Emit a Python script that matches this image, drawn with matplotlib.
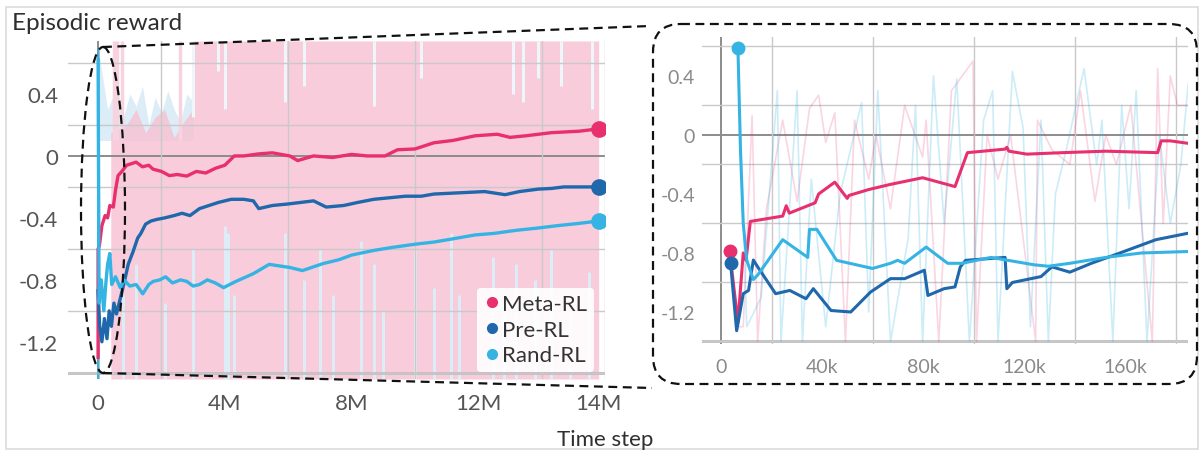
import matplotlib
matplotlib.use("Agg")
import matplotlib.pyplot as plt
from matplotlib.lines import Line2D
from matplotlib.patches import Ellipse, FancyBboxPatch, Rectangle
from matplotlib.ticker import MultipleLocator

plt.rcParams['font.family'] = ['Lato', 'DejaVu Sans']

names = ['Meta-RL', 'Pre-RL', 'Rand-RL']
colors = ['#E8306E', '#1F68AC', '#35B4E4']

# main chart, x in millions of steps
meta_x = [0.0, 0.0, 0.04, 0.12, 0.22, 0.3, 0.37, 0.48, 0.55, 0.63, 0.75, 0.9, 1.05, 1.2, 1.4, 1.6, 1.73, 2.0,
          2.25, 2.5, 2.8, 3.1, 3.4, 3.7, 4.0, 4.3, 4.6, 5.06, 5.5, 6.05, 6.3, 6.8, 7.4, 8.0, 8.5, 9.06, 9.45,
          10.0, 10.6, 11.2, 11.9, 12.6, 13.0, 13.5, 14.3, 15.2, 15.8]
meta_y = [-1.3, -0.6, -0.58, -0.45, -0.385, -0.4, -0.32, -0.33, -0.22, -0.127, -0.1, -0.06, -0.05, -0.04, -0.07,
          -0.06, -0.085, -0.1, -0.127, -0.12, -0.13, -0.1, -0.11, -0.08, -0.06, 0.0, 0.0, 0.013, 0.02, 0.0, -0.03,
          0.0, -0.01, 0.01, 0.0, 0.0, 0.04, 0.045, 0.085, 0.1, 0.13, 0.14, 0.12, 0.13, 0.15, 0.16, 0.175]

pre_x = [0.0, 0.05, 0.12, 0.2, 0.28, 0.35, 0.42, 0.5, 0.58, 0.7, 0.82, 0.95, 1.1, 1.25, 1.35, 1.5, 1.67, 1.85,
         2.1, 2.4, 2.65, 2.9, 3.2, 3.5, 3.8, 4.2, 4.6, 4.9, 5.07, 5.5, 6.0, 6.4, 6.8, 7.2, 7.75, 8.2, 8.7, 9.2,
         9.7, 10.2, 10.6, 11.2, 11.7, 12.2, 12.85, 13.3, 13.9, 14.3, 14.7, 15.2, 15.8]
pre_y = [-0.87, -1.1, -1.2, -1.05, -1.18, -1.0, -1.1, -0.95, -1.02, -0.92, -0.82, -0.7, -0.62, -0.53, -0.5,
         -0.44, -0.42, -0.41, -0.4, -0.385, -0.37, -0.385, -0.34, -0.32, -0.3, -0.28, -0.28, -0.29, -0.34, -0.32,
         -0.31, -0.3, -0.29, -0.33, -0.32, -0.3, -0.28, -0.27, -0.26, -0.26, -0.246, -0.24, -0.235, -0.23, -0.25,
         -0.23, -0.214, -0.21, -0.2, -0.2, -0.2]

rand_x = [0.0, 0.03, 0.1, 0.18, 0.25, 0.3, 0.37, 0.43, 0.55, 0.7, 0.82, 1.0, 1.2, 1.41, 1.6, 1.74, 1.95, 2.13,
          2.35, 2.6, 2.8, 3.0, 3.2, 3.45, 3.7, 3.96, 4.35, 4.9, 5.4, 6.05, 6.45, 7.1, 7.6, 8.0, 8.7, 9.3, 10.0,
          10.6, 11.2, 11.9, 12.5, 13.2, 13.9, 14.5, 15.2, 15.8]
rand_y = [0.62, -0.95, -0.8, -1.0, -0.81, -0.7, -0.63, -0.83, -0.78, -0.85, -0.8, -0.84, -0.83, -0.89, -0.83,
          -0.81, -0.8, -0.78, -0.82, -0.8, -0.81, -0.84, -0.83, -0.8, -0.82, -0.85, -0.81, -0.76, -0.7, -0.72,
          -0.74, -0.695, -0.67, -0.64, -0.61, -0.59, -0.57, -0.556, -0.535, -0.51, -0.5, -0.48, -0.465, -0.45,
          -0.435, -0.42]

# raw (unsmoothed) background of the main chart
pink_x = [0.4, 0.9, 1.2, 1.5, 1.8, 2.1, 2.4, 2.7, 3.0, 3.0, 15.8]
pink_top = [0.15, 0.2, 0.3, 0.15, 0.25, 0.3, 0.12, 0.22, 0.3, 0.742, 0.742]
rawb_x = [0.0, 0.3, 0.6, 0.8, 1.0, 1.2, 1.4, 1.6, 1.8, 2.0, 2.2, 2.4, 2.6, 2.8, 3.0]
rawb_top = [0.7, 0.3, 0.45, 0.25, 0.4, 0.32, 0.45, 0.2, 0.38, 0.28, 0.42, 0.3, 0.22, 0.4, 0.35]
pink_spike_x = [0.5, 0.6, 0.75, 2.6]
low_gap_x = [0.8, 1.2, 2.1, 3.0, 4.0, 4.1, 4.3, 5.9, 6.5, 7.0, 7.4, 8.3, 8.7, 9.0, 10.0, 10.6, 11.15, 11.4,
             12.45, 12.8, 13.2, 13.8, 14.3, 14.9, 15.5]
low_gap_top = [-0.9, -0.7, -0.95, -0.6, -0.45, -0.5, -0.9, -0.5, -0.8, -0.6, -0.9, -0.55, -0.7, -1.0, -0.6, -0.85,
               -0.5, -0.9, -0.65, -0.95, -0.7, -0.8, -0.6, -1.0, -0.75]
top_gap_x = [3.0, 3.8, 4.0, 5.9, 6.5, 8.7, 10.2, 13.1, 13.4, 13.9, 14.6, 15.6]
top_gap_bot = [0.25, 0.55, 0.3, 0.35, 0.45, 0.32, 0.5, 0.4, 0.35, 0.5, 0.45, 0.3]

# inset, x in thousands of steps
meta_in_x = [3.4, 6.7, 8.8, 9.9, 11.6, 24.4, 25.8, 27.0, 37.2, 38.6, 45.0, 49.9, 50.6, 58.4, 67.0, 79.7, 92.5,
             97.4, 112.3, 113.0, 113.8, 120.9, 135.0, 152.1, 172.6, 174.0, 177.6, 184.7]
meta_in_y = [-0.785, -1.27, -0.8, -0.85, -0.586, -0.55, -0.48, -0.53, -0.46, -0.40, -0.32, -0.43, -0.41, -0.37,
             -0.335, -0.29, -0.35, -0.12, -0.096, -0.084, -0.11, -0.13, -0.12, -0.11, -0.12, -0.04, -0.04, -0.057]
pre_in_x = [3.8, 6.2, 8.8, 10.9, 12.8, 14.5, 21.6, 27.2, 33.6, 36.5, 43.5, 51.3, 59.1, 67.0, 72.6, 80.4, 81.8,
            88.2, 92.5, 94.6, 96.7, 112.3, 113.0, 115.2, 126.5, 130.8, 137.9, 146.4, 157.7, 171.9, 184.7]
pre_in_y = [-0.87, -1.327, -1.076, -1.054, -0.848, -0.894, -1.076, -1.054, -1.11, -1.042, -1.19, -1.2, -1.065,
            -0.974, -0.974, -0.917, -1.088, -1.042, -1.03, -0.894, -0.85, -0.83, -1.042, -1.0, -0.96, -0.894,
            -0.93, -0.87, -0.8, -0.71, -0.666]
rand_in_x = [6.7, 7.7, 8.8, 10.2, 12.8, 14.5, 24.4, 34.3, 35.0, 37.9, 45.7, 59.9, 67.0, 69.8, 72.6, 81.1, 89.6,
             95.3, 106.7, 123.7, 129.4, 137.9, 152.1, 166.2, 184.7]
rand_in_y = [0.59, -0.1, -0.6, -0.85, -0.98, -0.95, -0.71, -0.83, -0.64, -0.64, -0.85, -0.905, -0.87, -0.85,
             -0.87, -0.76, -0.87, -0.87, -0.83, -0.88, -0.89, -0.87, -0.83, -0.8, -0.79]
meta_raw_x = [3.4, 6.7, 8.8, 12.3, 14.5, 18.0, 24.4, 30.1, 35.0, 38.6, 41.4, 45.0, 49.2, 52.8, 58.4, 61.3, 67.0,
              72.6, 79.7, 81.1, 86.1, 91.1, 99.6, 101.0, 105.2, 109.5, 114.5, 116.6, 124.4, 125.1, 130.8, 137.9,
              142.1, 147.8, 152.1, 156.3, 162.0, 170.5, 172.6, 174.8, 177.6, 180.4, 184.7]
meta_raw_y = [-0.78, -1.3, -1.3, 0.13, -1.4, -0.5, 0.1, -0.45, 0.18, 0.27, -0.05, 0.15, -1.4, 0.1, -0.3, 0.0,
              -0.5, 0.2, -0.15, 0.1, -1.4, 0.3, 0.5, -1.4, 0.0, -0.3, 0.0, -0.3, -1.4, 0.1, -0.1, -0.2, 0.3, -0.45,
              0.0, -0.2, 0.2, -1.4, 0.45, -0.6, 0.4, 0.2, 0.2]
rand_raw_x = [6.7, 10.2, 15.9, 22.3, 23.7, 30.1, 32.2, 35.7, 41.4, 47.1, 55.6, 58.4, 62.0, 67.0, 74.0, 76.9, 79.7,
              84.0, 88.2, 93.2, 98.2, 103.8, 107.4, 109.5, 115.2, 119.4, 122.3, 126.5, 129.4, 132.2, 136.5, 143.5,
              148.5, 150.6, 154.9, 158.4, 161.3, 164.1, 168.4, 173.3, 177.6, 181.8, 184.7]
rand_raw_y = [0.59, -1.3, -1.1, 0.3, -1.4, 0.3, -1.4, -0.3, -1.3, -0.4, 0.22, -1.2, 0.3, -1.4, -0.7, 0.2, -1.4,
              0.4, -0.6, 0.38, -1.4, 0.1, 0.3, -1.4, 0.43, 0.05, -1.3, 0.1, -1.4, -0.4, -0.1, 0.45, -0.2, 0.1, -1.4,
              0.2, -0.5, 0.3, -1.4, 0.0, -0.6, -0.2, 0.35]

main_ticks = [0, 4, 8, 12, 15.8]
main_labels = ['0', '4M', '8M', '12M', '14M']
inset_ticks = [0, 40, 80, 120, 160]
inset_labels = ['0', '40k', '80k', '120k', '160k']
y_ticks = [-1.2, -0.8, -0.4, 0, 0.4]
y_labels = ['-1.2', '-0.8', '-0.4', '0', '0.4']

W, H = 1201, 452


def px_axes(fig, left, top, right, bottom):
    return fig.add_axes([left / W, (H - bottom) / H, (right - left) / W, (bottom - top) / H])


def style_grid(ax, xstep, tick_color, size, xpad, ypad):
    ax.xaxis.set_minor_locator(MultipleLocator(xstep))
    ax.yaxis.set_minor_locator(MultipleLocator(0.2))
    ax.grid(which='minor', color='#c9c9c9', lw=1.0, zorder=0)
    ax.axhline(0, color='#8c8c8c', lw=1.4, zorder=1)
    ax.axvline(0, color='#8c8c8c', lw=1.4, zorder=1)
    ax.axhline(-1.4, color='#bdbdbd', lw=2.0, zorder=1)
    for s in ax.spines.values():
        s.set_visible(False)
    ax.tick_params(which='both', length=0, colors=tick_color, labelsize=size)
    ax.tick_params(axis='x', pad=xpad)
    ax.tick_params(axis='y', pad=ypad)
    ax.set_yticks(y_ticks, y_labels)


def main_chart(fig):
    ax = px_axes(fig, 68, 42, 605, 380)
    ax.set_xlim(-0.95, 16.0)
    ax.set_ylim(-1.44, 0.742)
    style_grid(ax, 2, '#555555', 16, 10, 7)
    ax.set_xticks(main_ticks, main_labels)
    ax.fill_between(rawb_x, 0.1, rawb_top, color='#dcedf7', lw=0, zorder=0.5)
    ax.fill_between(pink_x, -1.44, pink_top, color='#f7c3d4', alpha=0.85, lw=0, zorder=0.6)
    ax.vlines(pink_spike_x, 0.1, 0.742, color='#f7d3df', lw=2.5, zorder=0.6)
    ax.vlines(low_gap_x, -1.44, low_gap_top, color='#dcedf7', lw=2.2, zorder=0.7)
    ax.vlines(top_gap_x, top_gap_bot, 0.742, color='#eef6fb', lw=2.2, zorder=0.7)
    ax.vlines([0], -1.44, 0.7, color=colors[2], lw=2.2, alpha=0.6, zorder=2)
    for xs, ys, c in zip([meta_x, pre_x, rand_x], [meta_y, pre_y, rand_y], colors):
        ax.plot(xs, ys, color=c, lw=2.4, zorder=3, solid_joinstyle='round')
        ax.plot(xs[-1:], ys[-1:], 'o', color=c, ms=11, zorder=4)
    handles = [Line2D([], [], marker='o', ls='', color=c, ms=7) for c in colors]
    leg = ax.legend(handles, names, loc='lower right', bbox_to_anchor=(594 / W, (H - 373) / H),
                    bbox_transform=fig.transFigure, fontsize=16, frameon=True, handletextpad=0.05,
                    handlelength=0.8, borderpad=0.3, labelspacing=0.25, borderaxespad=0)
    leg.get_frame().set_facecolor('white')
    leg.get_frame().set_alpha(0.9)
    leg.get_frame().set_edgecolor('none')
    for t in leg.get_texts():
        t.set_color('#333333')
    return ax


def inset_chart(fig):
    ax = px_axes(fig, 702, 38, 1188, 345)
    ax.set_xlim(-7.5, 184.6)
    ax.set_ylim(-1.417, 0.664)
    style_grid(ax, 20, '#8a8a8a', 14, 10, 5)
    ax.set_xticks(inset_ticks, inset_labels)
    ax.plot(meta_raw_x, meta_raw_y, color=colors[0], lw=1.2, alpha=0.2, zorder=2)
    ax.plot(rand_raw_x, rand_raw_y, color=colors[2], lw=1.2, alpha=0.25, zorder=2)
    for xs, ys, c in zip([meta_in_x, pre_in_x, rand_in_x], [meta_in_y, pre_in_y, rand_in_y], colors):
        ax.plot(xs, ys, color=c, lw=2.2, zorder=3)
        ax.plot(xs[:1], ys[:1], 'o', color=c, ms=9, zorder=4)
    return ax


def decorations(fig):
    d = fig.add_axes([0, 0, 1, 1], zorder=10)
    d.set_xlim(0, W)
    d.set_ylim(H, 0)
    d.axis('off')
    d.patch.set_alpha(0)
    dash = dict(color='#111111', lw=1.6, ls=(0, (4, 2.5)))
    d.add_patch(Rectangle((6, 8), 1192, 442, fill=False, ec='#dcdcdc', lw=1.2))
    d.add_patch(Ellipse((103, 211), 44, 326, fill=False, **dash))
    d.plot([103, 650], [48, 27], **dash)
    d.plot([103, 652], [374, 389], **dash)
    d.add_patch(FancyBboxPatch((653, 25), 544, 360, boxstyle='round,pad=0,rounding_size=28', fill=False, **dash))
    d.text(12, 24, 'Episodic reward', fontsize=17.5, color='#2f2f2f', va='center', ha='left')
    d.text(605, 440, 'Time step', fontsize=16, color='#2f2f2f', va='center', ha='center')


fig = plt.figure(figsize=(W / 100, H / 100), dpi=100)
main_chart(fig)
inset_chart(fig)
decorations(fig)
fig.savefig('out.png', dpi=100)
